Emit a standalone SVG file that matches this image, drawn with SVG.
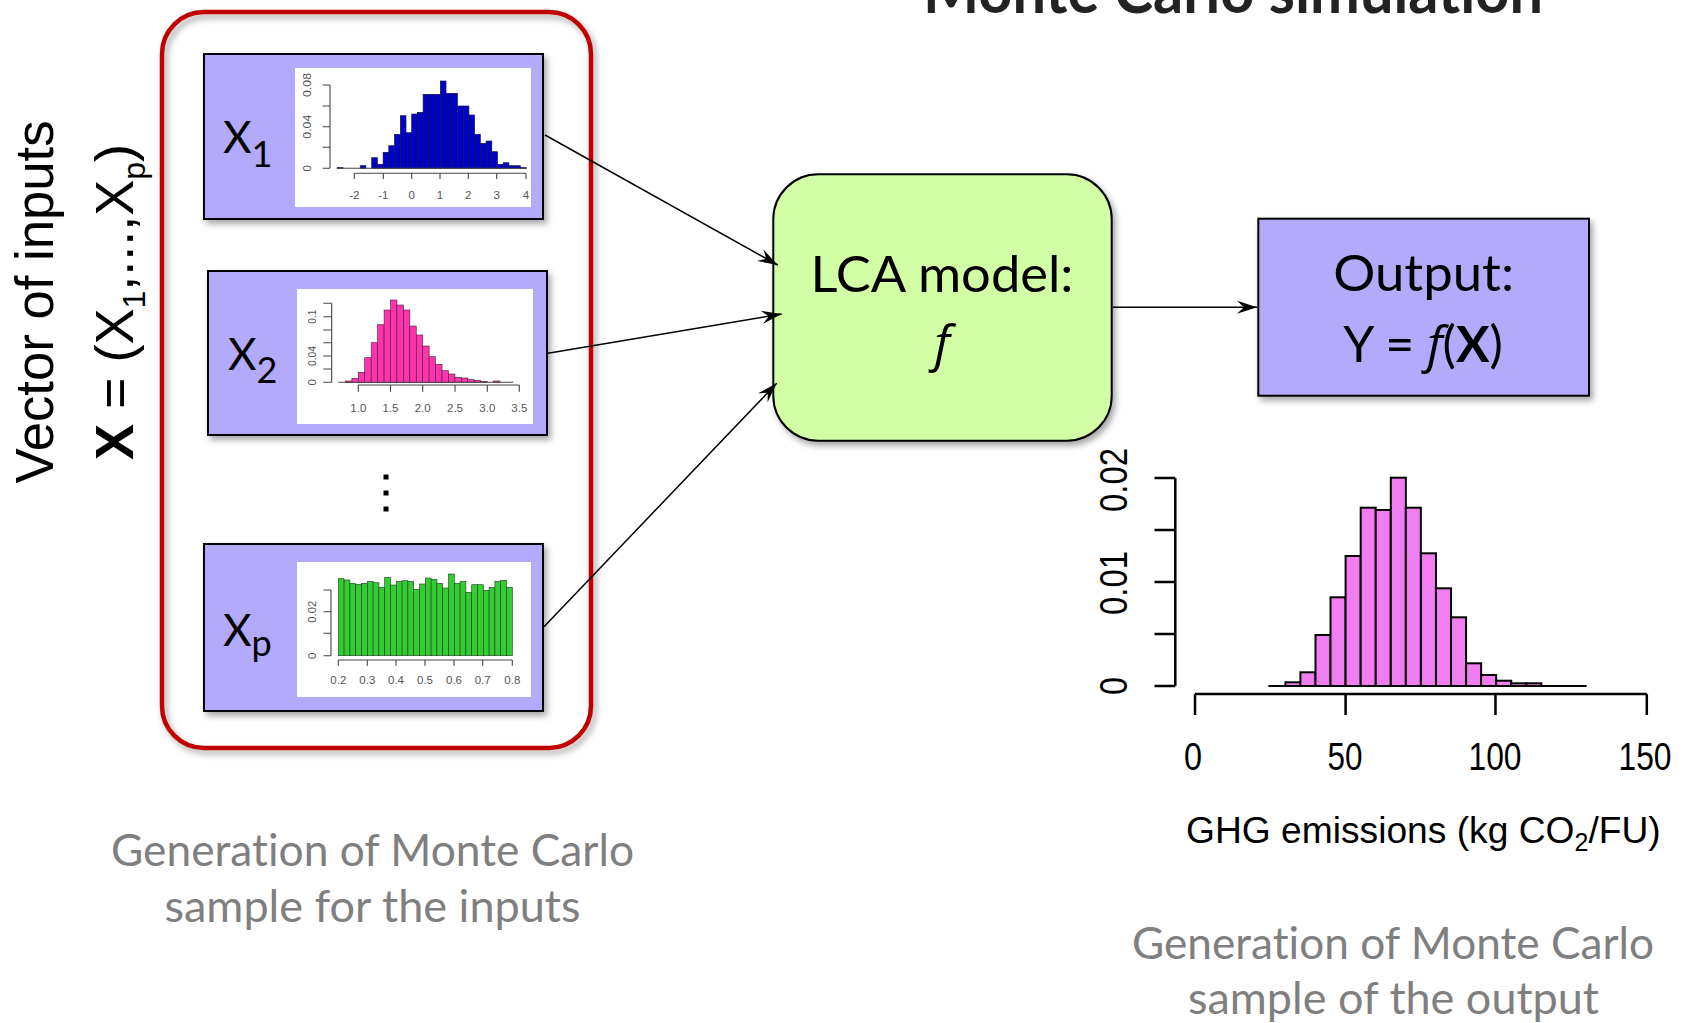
<svg xmlns="http://www.w3.org/2000/svg" width="1686" height="1023" viewBox="0 0 1686 1023">
  <defs>
    <style>
      text { font-variant-ligatures: none; }
      .calib { font-family: 'Lato', 'Liberation Sans', sans-serif; }
      .ital { font-family: 'Open Sans', 'Noto Sans', sans-serif; font-style: italic; }
      .arial { font-family: 'Liberation Sans', Arial, sans-serif; }
      .box { fill: #B4AAFB; stroke: #000; stroke-width: 2; }
      .plot { fill: #fff; }
      .ax { stroke: #444; stroke-width: 1.1; fill: none; }
      .tk { font-family: 'Liberation Sans', Arial, sans-serif; font-size: 11.5px; fill: #555; text-anchor: middle; }
      .b1 rect { fill: #0000C8; stroke: #101030; stroke-width: 0.6; }
      .b2 rect { fill: #FF33AD; stroke: #402030; stroke-width: 0.6; }
      .b3 rect { fill: #33CC33; stroke: #204020; stroke-width: 0.6; }
      .b4 rect { fill: #F07EF0; stroke: #000; stroke-width: 2; }
      .bigax { stroke: #000; stroke-width: 2.5; fill: none; }
      .big { font-family: 'Liberation Sans', Arial, sans-serif; font-size: 38px; fill: #000; text-anchor: middle; }
      .conn { stroke: #000; stroke-width: 1.5; fill: none; marker-end: url(#stealth); }
      .gray { font-family: 'Lato', 'Liberation Sans', sans-serif; font-size: 44px; fill: #7F7F7F; text-anchor: middle; }
      .lbl { font-family: 'Lato', 'Liberation Sans', sans-serif; font-size: 50px; fill: #000; text-anchor: middle; }
      .xl { font-family: 'Lato', 'Liberation Sans', sans-serif; font-size: 44px; fill: #000; }
    </style>
    <marker id="stealth" viewBox="-21 -8 22 16" refX="0" refY="0" markerWidth="22" markerHeight="16" markerUnits="userSpaceOnUse" orient="auto">
      <path d="M0,0 L-20,-6.5 L-13,0 L-20,6.5 Z" fill="#000"/>
    </marker>
    <filter id="shadow" x="-10%" y="-10%" width="125%" height="125%">
      <feDropShadow dx="3" dy="4" stdDeviation="3" flood-color="#000" flood-opacity="0.35"/>
    </filter>
  </defs>

  <rect width="1686" height="1023" fill="#fff"/>

  <!-- title, running off the top edge -->
  <text x="923" y="13" class="calib" font-size="63" font-weight="bold" fill="#222" textLength="620" lengthAdjust="spacingAndGlyphs">Monte Carlo simulation</text>

  <!-- vertical caption of the input vector -->
  <g id="input-vector-label" class="arial" font-size="54" fill="#000">
    <text transform="translate(53,302) rotate(-90)" text-anchor="middle" textLength="363" lengthAdjust="spacingAndGlyphs">Vector of inputs</text>
    <text transform="translate(133,302) rotate(-90)" text-anchor="middle"><tspan font-weight="bold">X</tspan> = (X<tspan font-size="32" dy="12">1</tspan><tspan dy="-12">,...,X</tspan><tspan font-size="32" dy="12">p</tspan><tspan dy="-12">)</tspan></text>
  </g>

  <!-- red frame around the sampled inputs -->
  <rect id="inputs-frame" x="162" y="12" width="429" height="736" rx="42" fill="none" stroke="#C00000" stroke-width="4.5" filter="url(#shadow)"/>

  <!-- input X1 -->
  <g id="node-x1">
    <rect class="box" x="204" y="54" width="339" height="165" filter="url(#shadow)"/>
    <rect class="plot" x="295" y="68" width="236" height="139"/>
    <text class="xl" x="223" y="153">X<tspan font-size="36" dy="14">1</tspan></text>
    <g class="b1">
      <rect x="337.3" y="167.5" width="5.72" height="0.8"/>
      <rect x="360.2" y="165.7" width="5.72" height="2.6"/>
      <rect x="371.7" y="157.7" width="5.72" height="10.6"/>
      <rect x="377.4" y="164.3" width="5.72" height="4"/>
      <rect x="383.1" y="152.3" width="5.72" height="16"/>
      <rect x="388.8" y="145.7" width="5.72" height="22.6"/>
      <rect x="394.5" y="134.3" width="5.72" height="34"/>
      <rect x="400.3" y="115.7" width="5.72" height="52.6"/>
      <rect x="406.0" y="132.7" width="5.72" height="35.6"/>
      <rect x="411.7" y="114" width="5.72" height="54.3"/>
      <rect x="417.4" y="112.3" width="5.72" height="56"/>
      <rect x="423.1" y="94.3" width="5.72" height="74"/>
      <rect x="428.9" y="94.3" width="5.72" height="74"/>
      <rect x="434.6" y="94.3" width="5.72" height="74"/>
      <rect x="440.3" y="81" width="5.72" height="87.3"/>
      <rect x="446.0" y="93.3" width="5.72" height="75"/>
      <rect x="451.7" y="93.3" width="5.72" height="75"/>
      <rect x="457.5" y="106" width="5.72" height="62.3"/>
      <rect x="463.2" y="106" width="5.72" height="62.3"/>
      <rect x="468.9" y="115" width="5.72" height="53.3"/>
      <rect x="474.6" y="134.3" width="5.72" height="34"/>
      <rect x="480.3" y="143.3" width="5.72" height="25"/>
      <rect x="486.1" y="141" width="5.72" height="27.3"/>
      <rect x="491.8" y="151.7" width="5.72" height="16.6"/>
      <rect x="497.5" y="164.3" width="5.72" height="4"/>
      <rect x="503.2" y="162.7" width="5.72" height="5.6"/>
      <rect x="508.9" y="165.7" width="5.72" height="2.6"/>
      <rect x="514.7" y="165.7" width="5.72" height="2.6"/>
      <rect x="520.4" y="167.5" width="5.72" height="0.8"/>
    </g>
    <path class="ax" d="M336.7,168.3 H526.7"/>
    <path class="ax" d="M330,85 V168.3 M322.7,85 H330 M322.7,106 H330 M322.7,126.7 H330 M322.7,147.3 H330 M322.7,168.3 H330"/>
    <path class="ax" d="M354.3,173.3 H526 M354.3,173.3 V179 M383.3,173.3 V179 M411.7,173.3 V179 M440,173.3 V179 M468.3,173.3 V179 M496.7,173.3 V179 M526,173.3 V179"/>
    <g class="tk" font-size="10">
      <text transform="translate(310.7,85) rotate(-90)" textLength="24" lengthAdjust="spacingAndGlyphs">0.08</text>
      <text transform="translate(310.7,126.7) rotate(-90)" textLength="24" lengthAdjust="spacingAndGlyphs">0.04</text>
      <text transform="translate(310.7,168.3) rotate(-90)">0</text>
    </g>
    <g class="tk">
      <text x="354.3" y="199">-2</text>
      <text x="383.3" y="199">-1</text>
      <text x="411.7" y="199">0</text>
      <text x="440" y="199">1</text>
      <text x="468.3" y="199">2</text>
      <text x="496.7" y="199">3</text>
      <text x="526" y="199">4</text>
    </g>
  </g>

  <!-- input X2 -->
  <g id="node-x2">
    <rect class="box" x="208" y="271" width="339" height="164" filter="url(#shadow)"/>
    <rect class="plot" x="297" y="289" width="236" height="135"/>
    <text class="xl" x="228" y="370">X<tspan font-size="36" dy="13">2</tspan></text>
    <g class="b2">
      <rect x="345.4" y="381" width="6.44" height="1.3"/>
      <rect x="351.9" y="378.3" width="6.44" height="4"/>
      <rect x="358.3" y="372.3" width="6.44" height="10"/>
      <rect x="364.7" y="357.7" width="6.44" height="24.6"/>
      <rect x="371.2" y="342.7" width="6.44" height="39.6"/>
      <rect x="377.6" y="324.7" width="6.44" height="57.6"/>
      <rect x="384.1" y="310" width="6.44" height="72.3"/>
      <rect x="390.5" y="300" width="6.44" height="82.3"/>
      <rect x="396.9" y="305" width="6.44" height="77.3"/>
      <rect x="403.4" y="310" width="6.44" height="72.3"/>
      <rect x="409.8" y="326" width="6.44" height="56.3"/>
      <rect x="416.3" y="335" width="6.44" height="47.3"/>
      <rect x="422.7" y="346" width="6.44" height="36.3"/>
      <rect x="429.1" y="356.7" width="6.44" height="25.6"/>
      <rect x="435.6" y="364.3" width="6.44" height="18"/>
      <rect x="442" y="370.7" width="6.44" height="11.6"/>
      <rect x="448.5" y="374" width="6.44" height="8.3"/>
      <rect x="454.9" y="377.3" width="6.44" height="5"/>
      <rect x="461.3" y="378" width="6.44" height="4.3"/>
      <rect x="467.8" y="379.7" width="6.44" height="2.6"/>
      <rect x="474.2" y="380.3" width="6.44" height="2"/>
      <rect x="480.7" y="381.3" width="6.44" height="1"/>
      <rect x="493.5" y="381" width="6.44" height="1.3"/>
    </g>
    <path class="ax" d="M338.3,382.3 H513.3"/>
    <path class="ax" d="M331.7,303.3 V382.3 M323.3,303.3 H331.7 M323.3,316.7 H331.7 M323.3,330 H331.7 M323.3,342.7 H331.7 M323.3,356 H331.7 M323.3,369 H331.7 M323.3,382.3 H331.7"/>
    <path class="ax" d="M358.3,385 H519.3 M358.3,385 V391.7 M390.5,385 V391.7 M422.7,385 V391.7 M455,385 V391.7 M487.3,385 V391.7 M519.3,385 V391.7"/>
    <g class="tk" font-size="10">
      <text transform="translate(315.7,316.7) rotate(-90)" textLength="14" lengthAdjust="spacingAndGlyphs">0.1</text>
      <text transform="translate(315.7,356) rotate(-90)" textLength="20" lengthAdjust="spacingAndGlyphs">0.04</text>
      <text transform="translate(315.7,382.3) rotate(-90)">0</text>
    </g>
    <g class="tk" font-size="12">
      <text x="358.3" y="411.5">1.0</text>
      <text x="390.5" y="411.5">1.5</text>
      <text x="422.7" y="411.5">2.0</text>
      <text x="455" y="411.5">2.5</text>
      <text x="487.3" y="411.5">3.0</text>
      <text x="519.3" y="411.5">3.5</text>
    </g>
  </g>

  <!-- vertical ellipsis between X2 and Xp -->
  <g id="ellipsis" fill="#000">
    <rect x="383.5" y="474.5" width="5" height="5"/>
    <rect x="383.5" y="490.5" width="5" height="5"/>
    <rect x="383.5" y="506.5" width="5" height="5"/>
  </g>

  <!-- input Xp -->
  <g id="node-xp">
    <rect class="box" x="204" y="544" width="339" height="167" filter="url(#shadow)"/>
    <rect class="plot" x="297" y="562" width="234" height="135"/>
    <text class="xl" x="223" y="646">X<tspan font-size="36" dy="10">p</tspan></text>
    <g class="b3">
      <rect x="338.3" y="578.7" width="5.8" height="77"/>
      <rect x="344.1" y="580" width="5.8" height="75.7"/>
      <rect x="349.9" y="583.3" width="5.8" height="72.4"/>
      <rect x="355.7" y="584.3" width="5.8" height="71.4"/>
      <rect x="361.5" y="583.3" width="5.8" height="72.4"/>
      <rect x="367.3" y="581.3" width="5.8" height="74.4"/>
      <rect x="373.1" y="582.7" width="5.8" height="73"/>
      <rect x="378.9" y="587.3" width="5.8" height="68.4"/>
      <rect x="384.7" y="577.3" width="5.8" height="78.4"/>
      <rect x="390.5" y="585" width="5.8" height="70.7"/>
      <rect x="396.3" y="581.3" width="5.8" height="74.4"/>
      <rect x="402.1" y="580.7" width="5.8" height="75"/>
      <rect x="407.9" y="581.3" width="5.8" height="74.4"/>
      <rect x="413.7" y="589.3" width="5.8" height="66.4"/>
      <rect x="419.5" y="584" width="5.8" height="71.7"/>
      <rect x="425.3" y="578" width="5.8" height="77.7"/>
      <rect x="431.1" y="579.3" width="5.8" height="76.4"/>
      <rect x="436.9" y="583.3" width="5.8" height="72.4"/>
      <rect x="442.7" y="588" width="5.8" height="67.7"/>
      <rect x="448.5" y="574" width="5.8" height="81.7"/>
      <rect x="454.3" y="583.3" width="5.8" height="72.4"/>
      <rect x="460.1" y="581.3" width="5.8" height="74.4"/>
      <rect x="465.9" y="592.3" width="5.8" height="63.4"/>
      <rect x="471.7" y="584.7" width="5.8" height="71"/>
      <rect x="477.5" y="584.7" width="5.8" height="71"/>
      <rect x="483.3" y="590.3" width="5.8" height="65.4"/>
      <rect x="489.1" y="587.3" width="5.8" height="68.4"/>
      <rect x="494.9" y="581.3" width="5.8" height="74.4"/>
      <rect x="500.7" y="580.3" width="5.8" height="75.4"/>
      <rect x="506.5" y="587.3" width="5.8" height="68.4"/>
    </g>
    <path class="ax" d="M331,590 V655.7 M323.5,590 H331 M323.5,611.7 H331 M323.5,633.3 H331 M323.5,655.7 H331"/>
    <path class="ax" d="M338.3,660 H512.3 M338.3,660 V665.7 M367.3,660 V665.7 M396,660 V665.7 M425,660 V665.7 M454,660 V665.7 M482.7,660 V665.7 M512.3,660 V665.7"/>
    <g class="tk" font-size="10">
      <text transform="translate(315.7,611.7) rotate(-90)" textLength="22" lengthAdjust="spacingAndGlyphs">0.02</text>
      <text transform="translate(315.7,655.7) rotate(-90)">0</text>
    </g>
    <g class="tk" font-size="12">
      <text x="338.3" y="684">0.2</text>
      <text x="367.3" y="684">0.3</text>
      <text x="396" y="684">0.4</text>
      <text x="425" y="684">0.5</text>
      <text x="454" y="684">0.6</text>
      <text x="482.7" y="684">0.7</text>
      <text x="512.3" y="684">0.8</text>
    </g>
  </g>

  <!-- model -->
  <g id="node-lca">
    <rect x="773.3" y="174.3" width="338.4" height="266.4" rx="45" fill="#D2FFA6" stroke="#000" stroke-width="2" filter="url(#shadow)"/>
    <text class="lbl" x="942" y="291.7" textLength="263" lengthAdjust="spacingAndGlyphs">LCA model:</text>
    <text class="ital" x="942" y="361" font-size="50" text-anchor="middle">f</text>
  </g>

  <!-- output -->
  <g id="node-output">
    <rect class="box" x="1258.3" y="218.7" width="330.7" height="177" filter="url(#shadow)"/>
    <text class="lbl" x="1423.7" y="290.7" textLength="181" lengthAdjust="spacingAndGlyphs">Output:</text>
    <text class="lbl" x="1423" y="361.7">Y = <tspan class="ital">f</tspan>(<tspan font-weight="bold">X</tspan>)</text>
  </g>

  <!-- connectors -->
  <g id="connectors">
    <path class="conn" d="M545,135 L777.7,265"/>
    <path class="conn" d="M548,353.3 L781.7,314"/>
    <path class="conn" d="M544,626.7 L776.7,383.3"/>
    <path class="conn" d="M1113,307.3 L1257,307.3"/>
  </g>

  <!-- distribution of the output -->
  <g id="output-histogram">
    <g class="b4">
      <rect x="1285.4" y="682.3" width="15.06" height="3.7"/>
      <rect x="1300.4" y="672.3" width="15.06" height="13.7"/>
      <rect x="1315.5" y="635" width="15.06" height="51"/>
      <rect x="1330.5" y="597.3" width="15.06" height="88.7"/>
      <rect x="1345.6" y="556" width="15.06" height="130"/>
      <rect x="1360.7" y="507.7" width="15.06" height="178.3"/>
      <rect x="1375.7" y="510" width="15.06" height="176"/>
      <rect x="1390.8" y="477.7" width="15.06" height="208.3"/>
      <rect x="1405.8" y="507.7" width="15.06" height="178.3"/>
      <rect x="1420.9" y="553.3" width="15.06" height="132.7"/>
      <rect x="1436" y="588.3" width="15.06" height="97.7"/>
      <rect x="1451" y="617.3" width="15.06" height="68.7"/>
      <rect x="1466.1" y="663.3" width="15.06" height="22.7"/>
      <rect x="1481.1" y="675" width="15.06" height="11"/>
      <rect x="1496.2" y="680.7" width="15.06" height="5.3"/>
      <rect x="1511.3" y="683.3" width="15.06" height="2.7"/>
      <rect x="1526.3" y="683.3" width="15.06" height="2.7"/>
    </g>
    <path d="M1268.4,686 H1586.6" stroke="#000" stroke-width="2"/>
    <path class="bigax" d="M1175.3,478 V686 M1154.5,478 H1175.3 M1154.5,530 H1175.3 M1154.5,582 H1175.3 M1154.5,634 H1175.3 M1154.5,686 H1175.3"/>
    <path class="bigax" d="M1195,694 H1646.8 M1195,694 V715 M1345.6,694 V715 M1495.5,694 V715 M1646.8,694 V715"/>
    <text class="big" transform="translate(1127,480) rotate(-90)" textLength="64" lengthAdjust="spacingAndGlyphs">0.02</text>
    <text class="big" transform="translate(1127,583) rotate(-90)" textLength="64" lengthAdjust="spacingAndGlyphs">0.01</text>
    <text class="big" transform="translate(1127,686) rotate(-90)" textLength="18" lengthAdjust="spacingAndGlyphs">0</text>
    <text class="big" x="1193" y="770" textLength="18" lengthAdjust="spacingAndGlyphs">0</text>
    <text class="big" x="1345" y="770" textLength="35" lengthAdjust="spacingAndGlyphs">50</text>
    <text class="big" x="1495" y="770" textLength="53" lengthAdjust="spacingAndGlyphs">100</text>
    <text class="big" x="1645" y="770" textLength="53" lengthAdjust="spacingAndGlyphs">150</text>
    <text class="arial" x="1186" y="843" font-size="37.2" fill="#000">GHG emissions (kg CO<tspan font-size="25" dy="8">2</tspan><tspan dy="-8">/FU)</tspan></text>
  </g>

  <!-- captions -->
  <g id="captions">
    <text class="gray" x="372.5" y="866" textLength="523" lengthAdjust="spacingAndGlyphs">Generation of Monte Carlo</text>
    <text class="gray" x="372.5" y="922" textLength="416" lengthAdjust="spacingAndGlyphs">sample for the inputs</text>
    <text class="gray" x="1393" y="959" textLength="522" lengthAdjust="spacingAndGlyphs">Generation of Monte Carlo</text>
    <text class="gray" x="1393.5" y="1014" textLength="411" lengthAdjust="spacingAndGlyphs">sample of the output</text>
  </g>
</svg>
